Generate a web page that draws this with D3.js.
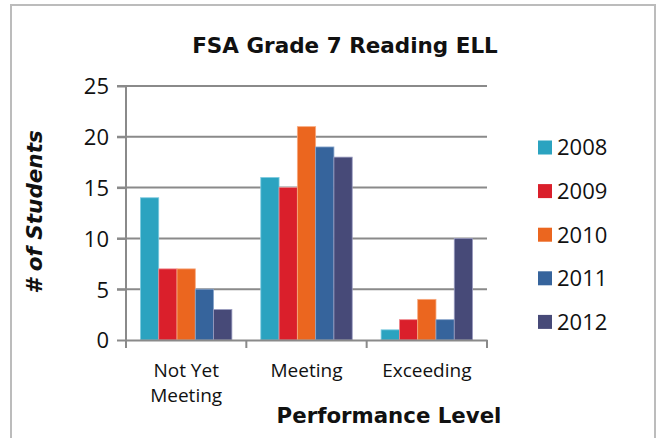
<!DOCTYPE html>
<html>
<head>
<meta charset="utf-8">
<script src="https://cdn.jsdelivr.net/npm/d3@7"></script>
<style>
  html, body { margin: 0; padding: 0; background: #fff; }
  svg { display: block; }
</style>
</head>
<body>
<svg id="chart"></svg>
<script>
// data
const categories = [["Not Yet", "Meeting"], ["Meeting"], ["Exceeding"]];
const categoryKeys = ["Not Yet Meeting", "Meeting", "Exceeding"];
const years = ["2008", "2009", "2010", "2011", "2012"];
const values2008 = [14, 16, 1];
const values2009 = [7, 15, 2];
const values2010 = [7, 21, 4];
const values2011 = [5, 19, 2];
const values2012 = [3, 18, 10];
const yTicks = [0, 5, 10, 15, 20, 25];

const series = [values2008, values2009, values2010, values2011, values2012];
const colors = ["#2ba3c0", "#da1f2b", "#eb661f", "#36649c", "#474a78"];
const edges = ["#7fcbe0", "#f08a90", "#f7aa80", "#8aa6cc", "#9a9cc0"];

const W = 658, H = 438;
const font = "'Open Sans', sans-serif";
const boldFont = "'DejaVu Sans', Verdana, sans-serif";

const svg = d3.select("#chart").attr("width", W).attr("height", H);

// outer frame
svg.append("rect")
  .attr("x", 11).attr("y", 5)
  .attr("width", 644).attr("height", 445)
  .attr("fill", "#fff")
  .attr("stroke", "#bcbcbc")
  .attr("stroke-width", 2);

// scales
const x0 = d3.scaleBand().domain(categoryKeys).range([126, 487]).padding(0);
const x1 = d3.scaleBand().domain(years).range([0, x0.bandwidth()])
  .paddingInner(0).paddingOuter(0.79);
const y = d3.scaleLinear().domain([0, 25]).range([340, 86]);

// gridlines
svg.append("g")
  .selectAll("line")
  .data(yTicks.filter(d => d > 0))
  .join("line")
  .attr("x1", 117).attr("x2", 487)
  .attr("y1", d => y(d)).attr("y2", d => y(d))
  .attr("stroke", "#8a8a8a")
  .attr("stroke-width", 2);

// bars
const rows = categoryKeys.map((c, i) => ({ cat: c, vals: series.map(s => s[i]) }));
svg.append("g")
  .selectAll("g")
  .data(rows)
  .join("g")
  .attr("transform", d => `translate(${x0(d.cat)},0)`)
  .selectAll("rect")
  .data(d => d.vals.map((v, j) => ({ year: years[j], v, j })))
  .join("rect")
  .attr("x", d => x1(d.year))
  .attr("y", d => y(d.v))
  .attr("width", x1.bandwidth())
  .attr("height", d => y(0) - y(d.v))
  .attr("fill", d => colors[d.j])
  .attr("stroke", d => edges[d.j])
  .attr("stroke-width", 0.8);

// y axis
const yAxis = svg.append("g")
  .attr("transform", "translate(126,0)")
  .call(d3.axisLeft(y).tickValues(yTicks).tickSize(9).tickPadding(8));
yAxis.select(".domain").attr("stroke", "#8a8a8a").attr("stroke-width", 2)
  .attr("d", `M0,${y(25)}V${y(0)}`);
yAxis.selectAll(".tick line").attr("stroke", "#8a8a8a").attr("stroke-width", 2);
yAxis.selectAll(".tick text")
  .attr("font-family", font).attr("font-size", 22).attr("fill", "#111")
  .attr("dy", "0.36em");

// x axis
const xAxis = svg.append("g")
  .attr("transform", "translate(0,340)")
  .call(d3.axisBottom(x0).tickSize(0).tickFormat(""));
xAxis.select(".domain").attr("stroke", "#8a8a8a").attr("stroke-width", 2);
xAxis.selectAll(".tick").remove();
svg.append("g")
  .selectAll("line")
  .data(d3.range(categoryKeys.length + 1))
  .join("line")
  .attr("x1", i => x0.range()[0] + i * x0.step())
  .attr("x2", i => x0.range()[0] + i * x0.step())
  .attr("y1", 340).attr("y2", 348)
  .attr("stroke", "#8a8a8a").attr("stroke-width", 2);

// category labels
svg.append("g")
  .selectAll("text")
  .data(categories)
  .join("text")
  .attr("font-family", font).attr("font-size", 19).attr("fill", "#111")
  .attr("text-anchor", "middle")
  .attr("transform", (d, i) => `translate(${x0(categoryKeys[i]) + x0.bandwidth() / 2},377)`)
  .selectAll("tspan")
  .data(d => d)
  .join("tspan")
  .attr("x", 0)
  .attr("dy", (d, i) => i === 0 ? 0 : 25)
  .text(d => d);

// title
svg.append("text")
  .attr("x", 345).attr("y", 53)
  .attr("text-anchor", "middle")
  .attr("font-family", boldFont).attr("font-weight", "bold").attr("font-size", 21.5)
  .attr("fill", "#111")
  .text("FSA Grade 7 Reading ELL");

// axis titles
svg.append("text")
  .attr("x", 389).attr("y", 423)
  .attr("text-anchor", "middle")
  .attr("font-family", boldFont).attr("font-weight", "bold").attr("font-size", 21.3)
  .attr("fill", "#111")
  .text("Performance Level");

svg.append("text")
  .attr("transform", "translate(42,212) rotate(-90)")
  .attr("text-anchor", "middle")
  .attr("font-family", boldFont).attr("font-weight", "bold").attr("font-style", "italic")
  .attr("font-size", 21.5)
  .attr("fill", "#111")
  .text("# of Students");

// legend
const legend = svg.append("g")
  .selectAll("g")
  .data(years)
  .join("g")
  .attr("transform", (d, i) => `translate(538,${147.5 + i * 43.6})`);
legend.append("rect")
  .attr("x", 0).attr("y", -7)
  .attr("width", 14).attr("height", 14)
  .attr("fill", (d, i) => colors[i]);
legend.append("text")
  .attr("x", 19).attr("y", 0).attr("dy", "0.36em")
  .attr("font-family", font).attr("font-size", 22).attr("fill", "#111")
  .text(d => d);
</script>
</body>
</html>
